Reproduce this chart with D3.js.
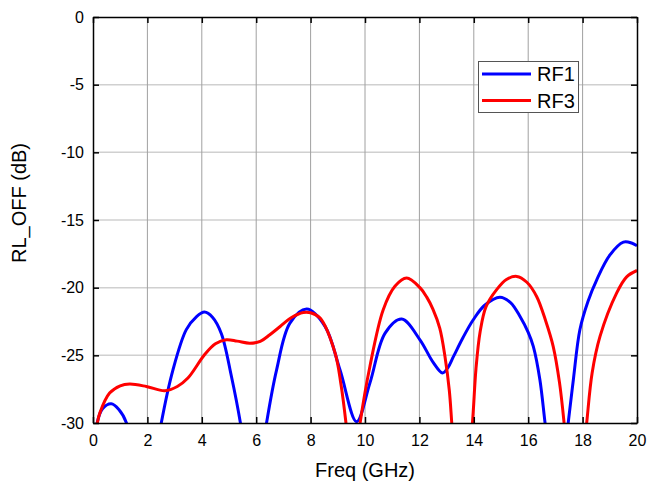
<!DOCTYPE html>
<html>
<head>
<meta charset="utf-8">
<script src="https://cdn.jsdelivr.net/npm/d3@7"></script>
<style>
  html, body { margin: 0; padding: 0; background: #fff; }
  svg { display: block; font-family: "Liberation Sans", Arial, sans-serif; }
</style>
</head>
<body>
<svg id="chart" width="648" height="488"></svg>
<script>
// ---- data ----
const xTicks = [0, 2, 4, 6, 8, 10, 12, 14, 16, 18, 20];
const yTicks = [0, -5, -10, -15, -20, -25, -30];
const seriesNames = ["RF1", "RF3"];
const seriesColors = ["#0000ff", "#ff0000"];
// [Freq (GHz), RL_OFF (dB)] ; values below -30 lie outside the plot and are clipped
const rf1 = [
  [0.0,-33],[0.15,-30],[0.35,-28.95],[0.67,-28.58],[0.95,-29.0],[1.23,-30],[1.4,-32],[1.9,-40],[2.35,-32],
  [2.51,-30],[2.94,-26.07],[3.43,-23.1],[3.8,-22.15],[4.1,-21.8],[4.4,-22.2],[4.72,-23.4],[5.09,-26.56],
  [5.42,-30],[5.6,-32.5],[5.9,-40],[6.2,-32.5],[6.38,-30],[6.75,-26.07],[7.24,-22.62],[7.86,-21.58],
  [8.53,-22.86],[9.08,-26.07],[9.69,-29.9],[10.18,-27.05],[10.74,-23.36],[11.35,-22.32],[12.02,-23.85],
  [12.5,-25.5],[12.85,-26.3],[13.05,-25.9],[13.25,-25.1],[13.6,-23.7],[13.98,-22.37],[14.4,-21.3],
  [14.96,-20.7],[15.35,-21.1],[15.7,-22.13],[16.0,-23.3],[16.19,-24.35],[16.43,-26.8],[16.62,-30],
  [16.75,-32],[17.05,-40],[17.35,-32],[17.47,-30],[17.66,-26.8],[17.9,-23.11],[18.2,-21.0],[18.52,-19.42],
  [19.0,-17.6],[19.5,-16.64],[19.8,-16.7],[20,-16.9]
];
const rf3 = [
  [0.0,-32],[0.16,-30],[0.25,-29.27],[0.61,-27.79],[1.0,-27.25],[1.35,-27.12],[1.96,-27.3],[2.64,-27.62],
  [3.1,-27.3],[3.49,-26.68],[4.1,-24.96],[4.5,-24.15],[4.9,-23.85],[5.3,-23.95],[5.76,-24.1],[6.15,-23.97],
  [6.5,-23.48],[6.88,-22.87],[7.3,-22.2],[7.73,-21.83],[8.0,-21.85],[8.35,-22.25],[8.9,-24.83],[9.12,-27.2],
  [9.3,-30],[9.4,-32],[9.55,-36],[9.7,-32],[9.82,-30],[10.18,-25.82],[10.67,-21.63],[11.1,-19.9],
  [11.53,-19.29],[12.02,-20.0],[12.27,-20.7],[12.5,-21.6],[12.75,-23.0],[12.94,-25.08],[13.1,-27.6],
  [13.19,-30],[13.3,-33],[13.55,-38],[13.8,-33],[13.95,-30],[14.08,-26.0],[14.23,-23.3],[14.45,-21.4],
  [14.84,-20.15],[15.2,-19.4],[15.58,-19.17],[15.95,-19.6],[16.31,-20.65],[16.65,-22.5],[16.92,-24.35],
  [17.15,-27],[17.32,-30],[17.45,-33],[17.75,-38],[18.0,-33],[18.15,-30],[18.35,-26.3],[18.64,-23.6],
  [19.25,-20.4],[19.62,-19.2],[20,-18.73]
];
const xTitle = "Freq (GHz)";
const yTitle = "RL_OFF (dB)";

// ---- layout ----
const L = 93, R = 637, T = 17, B = 423;
const svg = d3.select("#chart");
const x = d3.scaleLinear().domain([0, 20]).range([L, R]);
const y = d3.scaleLinear().domain([-30, 0]).range([B, T]);

svg.append("defs").append("clipPath").attr("id", "plotclip")
  .append("rect").attr("x", L).attr("y", T).attr("width", R - L).attr("height", B - T);

// gridlines
svg.append("g").selectAll("line").data(yTicks.filter(d => d > -30 && d < 0)).join("line")
  .attr("x1", L).attr("x2", R).attr("y1", d => y(d)).attr("y2", d => y(d))
  .attr("stroke", "#d0d0d0").attr("stroke-width", 1.5);
svg.append("g").selectAll("line").data(xTicks.filter(d => d > 0 && d < 20)).join("line")
  .attr("x1", d => x(d)).attr("x2", d => x(d)).attr("y1", T).attr("y2", B)
  .attr("stroke", "#a0a0a0").attr("stroke-width", 1);

// curves
const line = d3.line().x(d => x(d[0])).y(d => y(d[1])).curve(d3.curveCatmullRom.alpha(0.5));
const gCurves = svg.append("g").attr("clip-path", "url(#plotclip)");
[rf1, rf3].forEach((s, i) => {
  gCurves.append("path").datum(s).attr("d", line)
    .attr("fill", "none").attr("stroke", seriesColors[i]).attr("stroke-width", 3)
    .attr("stroke-linejoin", "round");
});

// axes
const fmt = d => String(d);
function styleAxis(g) {
  g.selectAll(".domain").attr("stroke", "#000").attr("stroke-width", 1.5);
  g.selectAll(".tick line").attr("stroke", "#000").attr("stroke-width", 1.5);
  g.selectAll(".tick text").attr("fill", "#000").style("font-size", "16px")
    .style("font-family", "'Liberation Sans', Arial, sans-serif");
}
svg.append("g").attr("transform", `translate(0,${B})`)
  .call(d3.axisBottom(x).tickValues(xTicks).tickFormat(fmt).tickSize(-6).tickSizeOuter(0).tickPadding(12))
  .call(styleAxis);
svg.append("g").attr("transform", `translate(0,${T})`)
  .call(d3.axisTop(x).tickValues(xTicks).tickFormat("").tickSize(-6).tickSizeOuter(0))
  .call(styleAxis);
svg.append("g").attr("transform", `translate(${L},0)`)
  .call(d3.axisLeft(y).tickValues(yTicks).tickFormat(fmt).tickSize(-6).tickSizeOuter(0).tickPadding(9))
  .call(styleAxis);
svg.append("g").attr("transform", `translate(${R},0)`)
  .call(d3.axisRight(y).tickValues(yTicks).tickFormat("").tickSize(-6).tickSizeOuter(0))
  .call(styleAxis);

// axis titles
svg.append("text").attr("x", (L + R) / 2).attr("y", 477).attr("text-anchor", "middle")
  .style("font-size", "20px").attr("fill", "#000").text(xTitle);
svg.append("text").attr("transform", "translate(26,263) rotate(-90)").attr("text-anchor", "start")
  .style("font-size", "20px").attr("fill", "#000").text(yTitle);

// legend
const lg = svg.append("g");
lg.append("rect").attr("x", 478.5).attr("y", 61.5).attr("width", 100).attr("height", 51)
  .attr("fill", "#fff").attr("stroke", "#555").attr("stroke-width", 1);
seriesNames.forEach((n, i) => {
  const yy = 74 + i * 26.5;
  lg.append("line").attr("x1", 482).attr("x2", 531).attr("y1", yy).attr("y2", yy)
    .attr("stroke", seriesColors[i]).attr("stroke-width", 3);
  lg.append("text").attr("x", 537).attr("y", yy + 7).style("font-size", "20px")
    .attr("fill", "#000").text(n);
});
</script>
</body>
</html>
